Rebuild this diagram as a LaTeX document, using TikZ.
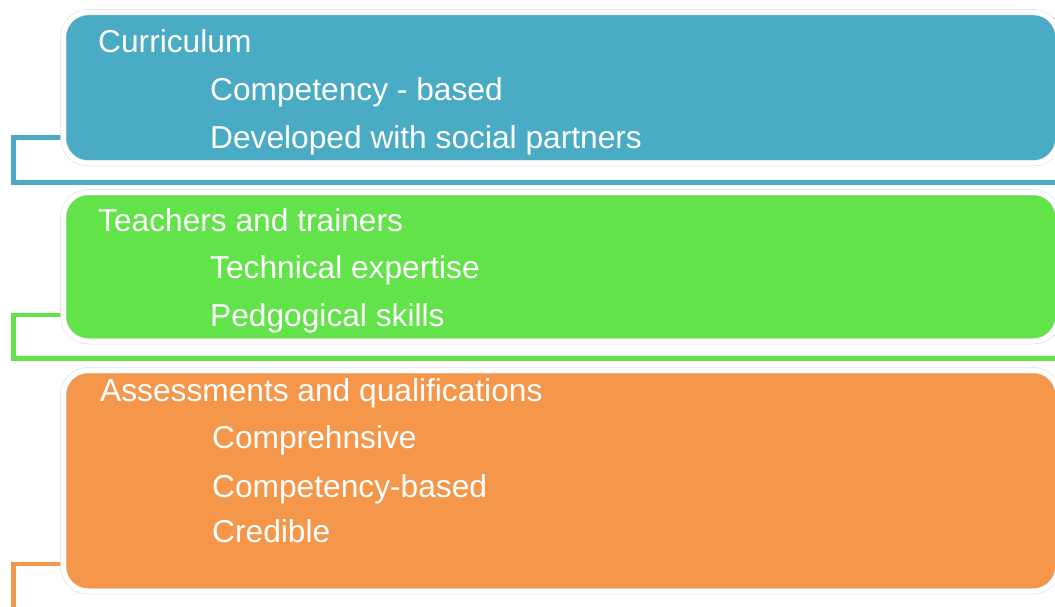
\documentclass[tikz,border=0pt]{standalone}
\usepackage{fontspec}
\setmainfont{Liberation Sans}
\usetikzlibrary{backgrounds}
\definecolor{cblue}{HTML}{4AABC4}
\definecolor{cgreen}{HTML}{62E34A}
\definecolor{corange}{HTML}{F5974A}
\begin{document}
\begin{tikzpicture}[x=1pt,y=-1pt,
  box/.style={draw=black!15, line width=0.5pt, double=white, double distance=5pt,
    rounded corners=25pt, anchor=north west, inner sep=0pt},
  conn/.style={line width=4.5pt},
  lbl/.style={anchor=base west, inner sep=0pt, text=white, font=\fontsize{31.7}{38}\selectfont}]
\useasboundingbox (0,0) rectangle (1055,607);
\coordinate (c1a) at (13.5,137.5);
\coordinate (c1b) at (1070,182.5);
\coordinate (c2a) at (13.5,315);
\coordinate (c2b) at (1070,358.5);
\coordinate (c3a) at (13.5,564);
\coordinate (c3b) at (13.5,620);
% boxes
\node[box, fill=cblue, minimum width=995pt, minimum height=151pt] (b1) at (63,12) {};
\node[box, fill=cgreen, minimum width=995pt, minimum height=149pt] (b2) at (63,192) {};
\node[box, fill=corange, minimum width=995pt, minimum height=221pt] (b3) at (63,370) {};
% connectors behind boxes
\begin{scope}[on background layer]
\draw[conn, cblue] (b1.west |- c1a) -- (c1a) |- (c1b);
\draw[conn, cgreen] (b2.west |- c2a) -- (c2a) |- (c2b);
\draw[conn, corange] (b3.west |- c3a) -- (c3a) -- (c3b);
\end{scope}
% labels
\node[lbl] (t1) at (98,53) {Curriculum};
\node[lbl] (t1a) at (210,101) {Competency - based};
\node[lbl] (t1b) at (210,149) {Developed with social partners};
\node[lbl] (t2) at (98,231) {Teachers and trainers};
\node[lbl] (t2a) at (210,278) {Technical expertise};
\node[lbl] (t2b) at (210,326) {Pedgogical skills};
\node[lbl] (t3) at (100,401) {Assessments and qualifications};
\node[lbl] (t3a) at (212,448) {Comprehnsive};
\node[lbl] (t3b) at (212,497) {Competency-based};
\node[lbl] (t3c) at (212,542) {Credible};
\end{tikzpicture}
\end{document}
